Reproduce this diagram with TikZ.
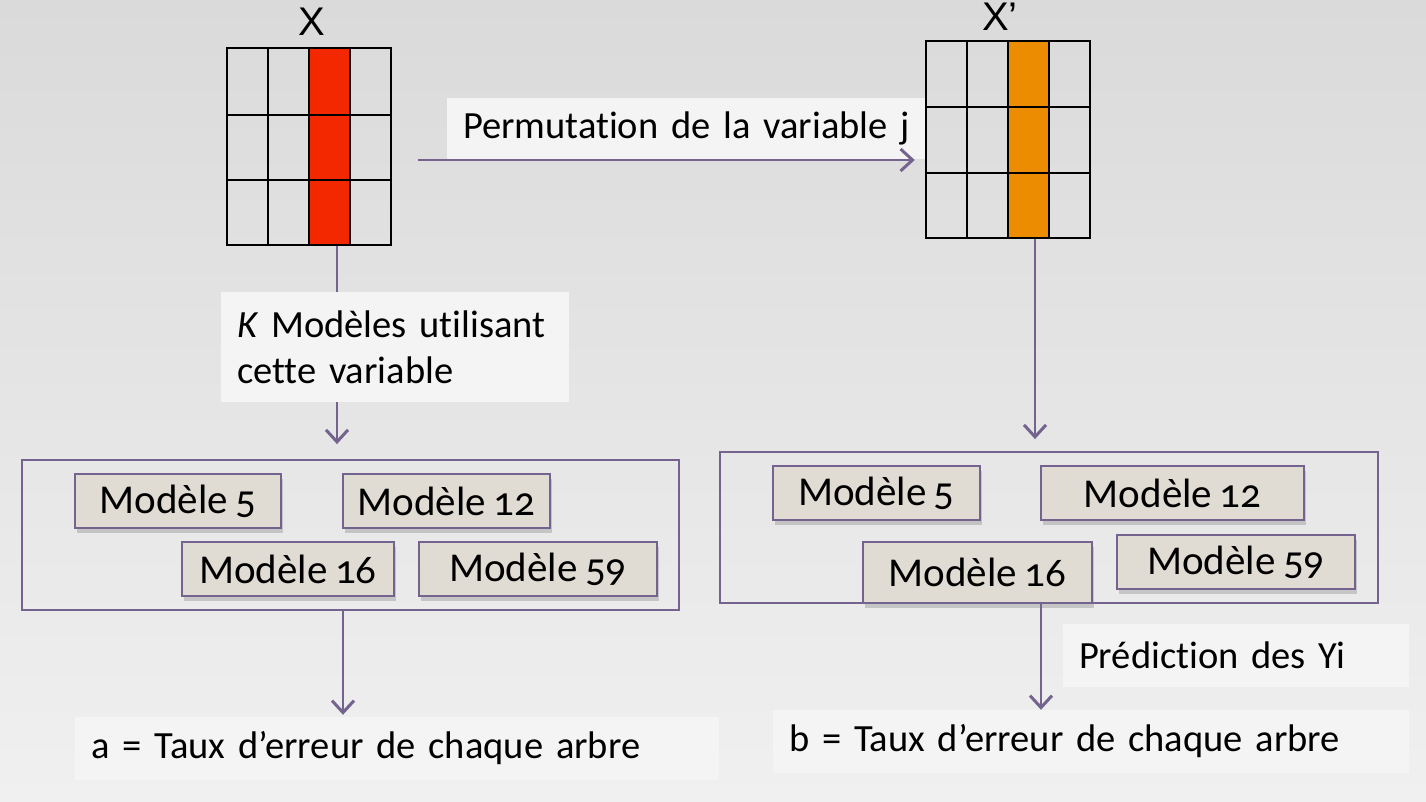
\documentclass[tikz,border=0pt]{standalone}
\usepackage{fontspec}
\setmainfont{Carlito}[Numbers=OldStyle, Ligatures=NoCommon, WordSpace=0.8]
\newfontfamily\arialfont{Liberation Sans}
\usetikzlibrary{arrows.meta}
\usetikzlibrary{shadows}

\definecolor{bgtop}{HTML}{DADADA}
\definecolor{bgbot}{HTML}{F0F0F0}
\definecolor{arrowpurple}{HTML}{75638F}
\definecolor{modelfill}{HTML}{E0DCD3}
\definecolor{labelfill}{HTML}{F4F4F4}
\definecolor{colred}{HTML}{F42800}
\definecolor{colorange}{HTML}{EC8C00}

\begin{document}
\begin{tikzpicture}[
            x=1pt, y=-1pt,
            arr/.style={draw=arrowpurple, line width=2pt, -{Straight Barb[length=12pt,width=22pt,line width=3pt]}},
            gridbox/.style={draw=black, line width=2.5pt, minimum width=164pt, minimum height=197pt, inner sep=0pt},
            gridline/.style={draw=black, line width=2.5pt},
            model/.style={draw=arrowpurple, line width=1.5pt, fill=modelfill, minimum height=54pt, inner sep=0pt, font=\fontsize{41}{44}\selectfont, drop shadow={shadow xshift=2pt, shadow yshift=-5pt, opacity=0.35}},
            group/.style={draw=arrowpurple, line width=1.8pt, inner sep=0pt},
            lbl/.style={fill=labelfill, inner xsep=16pt, inner ysep=0pt, align=left, font=\fontsize{38.5}{46}\selectfont},
            varname/.style={font=\arialfont\fontsize{40}{44}\selectfont, inner sep=0pt},
            ]
            \shade[top color=bgtop, bottom color=bgbot] (0,0) rectangle (1426,802);
            \useasboundingbox (0,0) rectangle (1426,802);

            \fill[colred] (309,48) rectangle (350,245);
            \draw[gridline] (268,48) -- (268,245);
            \draw[gridline] (309,48) -- (309,245);
            \draw[gridline] (350,48) -- (350,245);
            \draw[gridline] (227,115) -- (391,115);
            \draw[gridline] (227,180) -- (391,180);
            \node[gridbox] (gridX) at (309,146.5) {};
            \node[varname] (nameX) at (312,22) {X};

            \fill[colorange] (1008,41) rectangle (1049,238);
            \draw[gridline] (967,41) -- (967,238);
            \draw[gridline] (1008,41) -- (1008,238);
            \draw[gridline] (1049,41) -- (1049,238);
            \draw[gridline] (926,107) -- (1090,107);
            \draw[gridline] (926,173) -- (1090,173);
            \node[gridbox] (gridXp) at (1008,139.5) {};
            \node[varname] (nameXp) at (1000,17) {X’};

            \coordinate (permstart) at (418,160);
            \coordinate (kcol) at (337,0);
            \coordinate (acol) at (343,0);
            \coordinate (xpcol) at (1035,0);
            \coordinate (bcol) at (1041,0);

            \node[group] (lgroup) at (350.5,535) [minimum width=657pt, minimum height=150pt] {};
            \node[group] (rgroup) at (1049,527.5) [minimum width=658pt, minimum height=151pt] {};

            \node[model, minimum width=206pt] (l5) at (178,501) {Modèle 5};
            \node[model, minimum width=207pt] (l12) at (446.5,501) {Modèle 12};
            \node[model, minimum width=212pt] (l16) at (288,569) {Modèle 16};
            \node[model, minimum width=238pt] (l59) at (538,569) {Modèle 59};

            \node[model, minimum width=207pt] (r5) at (876.5,493) {Modèle 5};
            \node[model, minimum width=263pt] (r12) at (1172.5,493) {Modèle 12};
            \node[model, minimum width=229pt, minimum height=61pt] (r16) at (977.5,572.5) {Modèle 16};
            \node[model, minimum width=238pt] (r59) at (1236,562) {Modèle 59};

            \node[lbl, text width=478pt-32pt, minimum height=61pt] (perm) at (686,128.5) {\mbox{Permutation de la variable j}};
            \node[lbl, text width=644pt-32pt, minimum height=63pt] (alabel) at (397,748.5) {a = Taux d’erreur de chaque arbre};
            \node[lbl, text width=346pt-32pt, minimum height=63pt] (pred) at (1236,655.5) {Prédiction des Yi};
            \node[lbl, text width=636pt-32pt, minimum height=63pt] (blabel) at (1091,741.5) {b = Taux d’erreur de chaque arbre};

            \draw[arr, shorten >=10pt] (permstart) -- (permstart -| gridXp.west);
            \draw[arr, shorten >=15pt] (gridX.south -| kcol) -- (lgroup.north -| kcol);
            \draw[arr, shorten >=2pt] (lgroup.south -| acol) -- (alabel.north -| acol);
            \draw[arr, shorten >=12pt] (gridXp.south -| xpcol) -- (rgroup.north -| xpcol);
            \draw[arr] (r16.south -| bcol) -- (blabel.north -| bcol);

            \node[lbl, text width=348pt-32pt, minimum height=110pt] (klabel) at (395,347) {\textit{K} Modèles utilisant\\cette variable};
        \end{tikzpicture}
\end{document}
